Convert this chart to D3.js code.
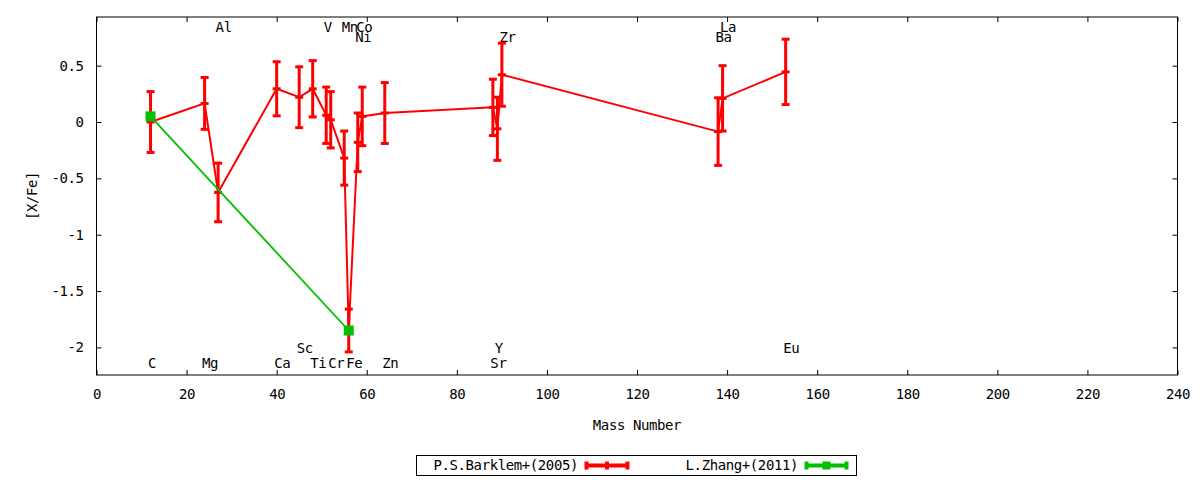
<!DOCTYPE html>
<html>
<head>
<meta charset="utf-8">
<script src="https://cdn.jsdelivr.net/npm/d3@7"></script>
<style>
  body { margin: 0; background: #fff; }
  text { font-family: "DejaVu Sans Mono", monospace; font-size: 14px; letter-spacing: -0.4px; fill: #000; }
</style>
</head>
<body>
<svg id="chart" width="1200" height="480"></svg>
<script>
// --data--
const barklem_mass = [12, 24, 27, 40, 45, 48, 51, 52, 55, 56, 58, 59, 64, 88, 89, 90, 138, 139, 153];
const barklem_xfe  = [0.00, 0.165, -0.625, 0.295, 0.22, 0.295, 0.06, 0.02, -0.32, -1.85, -0.18, 0.05, 0.08, 0.13, -0.06, 0.42, -0.085, 0.21, 0.445];
const barklem_err  = [0.27, 0.23, 0.26, 0.24, 0.27, 0.25, 0.25, 0.25, 0.24, 0.19, 0.26, 0.26, 0.27, 0.25, 0.28, 0.28, 0.30, 0.29, 0.29];

const zhang_mass = [12, 56];
const zhang_xfe  = [0.05, -1.85];

const element_names = ["C", "Mg", "Al", "Ca", "Sc", "Ti", "V", "Cr", "Mn", "Fe", "Co", "Ni", "Zn", "Sr", "Y", "Zr", "Ba", "La", "Eu"];
const element_x     = [12, 24, 27, 40, 45, 48, 51, 52, 55, 56, 58.2, 58, 64, 88, 89, 90, 138, 139, 153];
const element_y     = [-2.14, -2.14, 0.84, -2.14, -2.01, -2.14, 0.84, -2.14, 0.84, -2.14, 0.84, 0.75, -2.14, -2.14, -2.01, 0.75, 0.75, 0.84, -2.01];

const x_ticks = [0, 20, 40, 60, 80, 100, 120, 140, 160, 180, 200, 220, 240];
const y_ticks = [-2, -1.5, -1, -0.5, 0, 0.5];

// --graph--
const svg = d3.select("#chart");
const plot_left = 96.5, plot_right = 1177.5, plot_top = 17, plot_bottom = 375;

const x = d3.scaleLinear().domain([0, 240]).range([plot_left, plot_right]);
const y = d3.scaleLinear().domain([-2.245, 0.932]).range([plot_bottom, plot_top]);

const RED = "#ff0000";
const GREEN = "#00c000";
const CAP = 4;

// axes, ticks pointing inward on all four sides
svg.append("g")
  .attr("transform", `translate(0,${plot_bottom})`)
  .call(d3.axisBottom(x).tickValues(x_ticks).tickSize(-5).tickSizeOuter(0).tickPadding(14).tickFormat(d => String(d)));
svg.append("g")
  .attr("transform", `translate(0,${plot_top})`)
  .call(d3.axisTop(x).tickValues(x_ticks).tickSize(-5).tickSizeOuter(0).tickFormat(""));
svg.append("g")
  .attr("transform", `translate(${plot_left},0)`)
  .call(d3.axisLeft(y).tickValues(y_ticks).tickSize(-5).tickSizeOuter(0).tickPadding(13).tickFormat(d => String(d)));
svg.append("g")
  .attr("transform", `translate(${plot_right},0)`)
  .call(d3.axisRight(y).tickValues(y_ticks).tickSize(-5).tickSizeOuter(0).tickFormat(""));

svg.selectAll(".domain").remove();
svg.selectAll(".tick line").attr("stroke", "#000").attr("stroke-width", 1);
svg.selectAll(".tick text").attr("font-family", null).attr("font-size", null).attr("fill", "#000");

svg.append("rect")
  .attr("x", plot_left).attr("y", plot_top)
  .attr("width", plot_right - plot_left).attr("height", plot_bottom - plot_top)
  .attr("fill", "none").attr("stroke", "#000").attr("stroke-width", 1);

// axis titles
svg.append("text")
  .attr("x", (plot_left + plot_right) / 2).attr("y", 425)
  .attr("dy", "0.35em")
  .attr("text-anchor", "middle")
  .text("Mass Number");
svg.append("text")
  .attr("transform", "translate(32,196) rotate(-90)")
  .attr("dy", "0.35em")
  .attr("text-anchor", "middle")
  .text("[X/Fe]");

// element labels
svg.append("g").selectAll("text")
  .data(element_names)
  .join("text")
  .attr("x", (d, i) => x(element_x[i]))
  .attr("y", (d, i) => y(element_y[i]))
  .attr("dx", -2.5)
  .attr("dy", "0.35em")
  .text(d => d);

// Barklem series
const barklem = barklem_mass.map((m, i) => ({ m: m, v: barklem_xfe[i], e: barklem_err[i] }));

const line = d3.line().x(d => x(d.m)).y(d => y(d.v));

const plot = svg.append("g");

plot.append("path")
  .datum(barklem)
  .attr("d", line)
  .attr("fill", "none")
  .attr("stroke", RED)
  .attr("stroke-width", 2);

const bars = plot.selectAll(".ebar")
  .data(barklem)
  .join("g")
  .attr("class", "ebar")
  .attr("stroke", RED)
  .attr("stroke-width", 3);

bars.append("line")
  .attr("x1", d => x(d.m)).attr("x2", d => x(d.m))
  .attr("y1", d => y(d.v - d.e)).attr("y2", d => y(d.v + d.e));
[-1, 0, 1].forEach(function(k) {
  bars.append("line")
    .attr("x1", d => x(d.m) - CAP).attr("x2", d => x(d.m) + CAP)
    .attr("y1", d => y(d.v + k * d.e)).attr("y2", d => y(d.v + k * d.e));
});

// Zhang series
const zhang = zhang_mass.map((m, i) => ({ m: m, v: zhang_xfe[i] }));

plot.append("path")
  .datum(zhang)
  .attr("d", line)
  .attr("fill", "none")
  .attr("stroke", GREEN)
  .attr("stroke-width", 1.8);

plot.selectAll(".zmark")
  .data(zhang)
  .join("rect")
  .attr("class", "zmark")
  .attr("x", d => x(d.m) - 5).attr("y", d => y(d.v) - 5)
  .attr("width", 10).attr("height", 10)
  .attr("fill", GREEN);

// --legend--
const legend = svg.append("g");
legend.append("rect")
  .attr("x", 416.5).attr("y", 455.5)
  .attr("width", 440).attr("height", 20)
  .attr("fill", "none").attr("stroke", "#000").attr("stroke-width", 1);

function legend_entry(label, text_end, x0, x1, color, marker) {
  legend.append("text")
    .attr("x", text_end).attr("y", 465.5)
    .attr("dy", "0.35em")
    .attr("text-anchor", "end")
    .text(label);
  const g = legend.append("g").attr("stroke", color).attr("stroke-width", 4);
  g.append("line").attr("x1", x0).attr("x2", x1).attr("y1", 465.5).attr("y2", 465.5);
  g.append("line").attr("x1", x0 + 1.5).attr("x2", x0 + 1.5).attr("y1", 461.5).attr("y2", 469.5);
  g.append("line").attr("x1", x1 - 1.5).attr("x2", x1 - 1.5).attr("y1", 461.5).attr("y2", 469.5);
  const mid = (x0 + x1) / 2;
  if (marker) {
    legend.append("rect").attr("x", mid - 4).attr("y", 461.5).attr("width", 8).attr("height", 8).attr("fill", color);
  } else {
    g.append("line").attr("x1", mid).attr("x2", mid).attr("y1", 461.5).attr("y2", 469.5);
  }
}

legend_entry("P.S.Barklem+(2005)", 578, 585, 629, RED, false);
legend_entry("L.Zhang+(2011)", 798, 805, 848, GREEN, true);
</script>
</body>
</html>
